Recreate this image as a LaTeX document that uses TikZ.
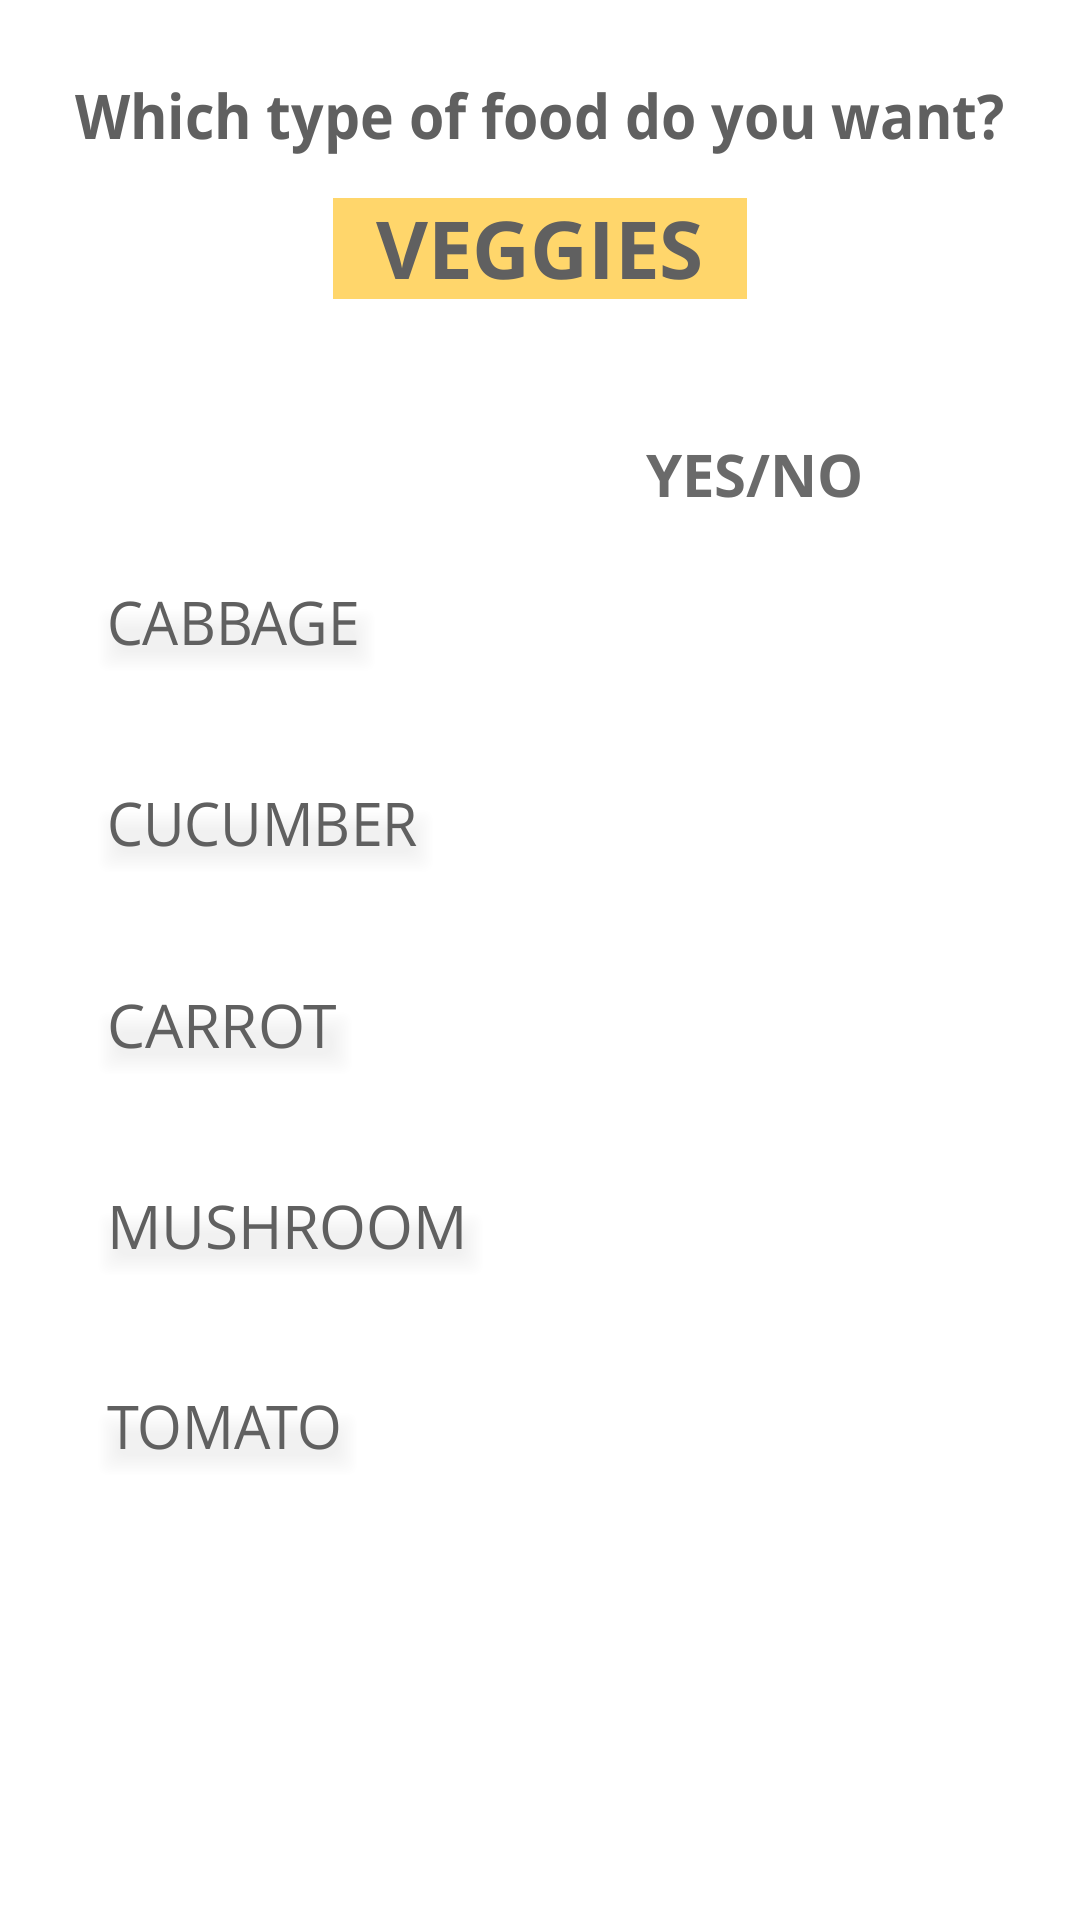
\documentclass[tikz,border=0pt]{standalone}
\usepackage{fontspec}
\setmainfont{Open Sans}
\usepackage{graphicx}
\definecolor{txtgray}{HTML}{606060}
\definecolor{hdrgray}{HTML}{6A6A6A}
\definecolor{veggold}{HTML}{FFD66B}
\newcommand\fitcap[4]{\resizebox{#1}{#2}{#3\setbox0\hbox{#4}\ht0=\fontcharht\font`H\relax\dp0=0pt\box0}}
\begin{document}
\begin{tikzpicture}[x=1pt,y=1pt,
  lbl/.style={anchor=base west, inner sep=0pt, outer sep=0pt},
  glowlayer/.style={fill=black, fill opacity=0.0045, draw=none, rounded corners=10pt},
  goldbox/.style={fill=veggold, draw=none, anchor=north west, inner sep=0pt, minimum width=414pt, minimum height=101pt}]
\fill[white] (0,0) rectangle (1080,-1920);
\useasboundingbox (0,0) rectangle (1080,-1920);
\node[lbl, text=txtgray] (title) at (75,-139) {\fitcap{930pt}{44pt}{\bfseries}{Which type of food do you want?}};
\node[goldbox] (box) at (333,-198) {};
\node[lbl, text=txtgray] (veg) at (376,-279) {\fitcap{328pt}{57pt}{\bfseries}{VEGGIES}};
\node[lbl, text=hdrgray] (yn) at (646,-497) {\fitcap{218pt}{42pt}{\bfseries}{YES/NO}};
\foreach \nm/\txt/\yy/\ww in {cab/CABBAGE/645/253, cuc/CUCUMBER/846/311, car/CARROT/1048/230, mus/MUSHROOM/1249/361, tom/TOMATO/1449/235} {
  \foreach \k in {0,...,13} {
    \fill[glowlayer] (98+1.5*\k, -\yy-26+1.5*\k) rectangle (122+\ww-1.5*\k, -\yy+36-1.5*\k);
  }
  \node[lbl, text=txtgray] (\nm) at (107,-\yy) {\fitcap{\ww pt}{43pt}{}{\txt}};
}
\end{tikzpicture}
\end{document}
